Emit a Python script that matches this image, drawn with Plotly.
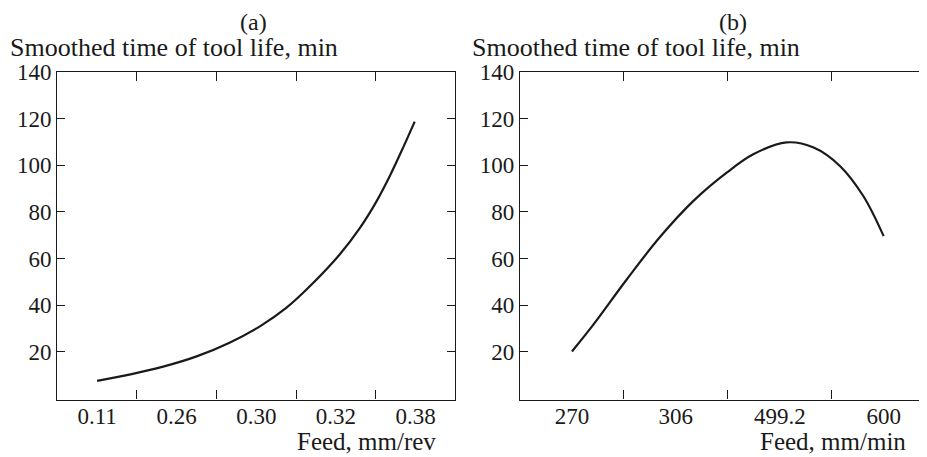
import plotly.graph_objects as go

# ---- data ----
feed_rev_labels = ["0.11", "0.26", "0.30", "0.32", "0.38"]
feed_min_labels = ["270", "306", "499.2", "600"]

# curve (a): position along the evenly spaced feed categories, tool life (min)
curve_a_pos = [0.0, 0.42, 0.83, 1.25, 1.67, 2.05, 2.38, 2.65, 3.05, 3.30, 3.51, 3.68, 3.85, 3.99]
curve_a_life = [7.5, 10.3, 13.6, 18.0, 24.0, 31.0, 38.9, 47.3, 61.8, 73.0, 84.5, 95.6, 108.0, 118.7]

# curve (b)
curve_b_pos = [0.0, 0.206, 0.527, 0.847, 1.167, 1.489, 1.745, 2.066, 2.326, 2.579, 2.804, 3.0]
curve_b_life = [20.1, 31.6, 51.0, 69.2, 84.6, 96.8, 104.7, 109.8, 107.6, 99.7, 86.8, 69.6]

y_ticks = [20, 40, 60, 80, 100, 120, 140]

# page body has an 8px margin: figure is drawn 8px in from the top-left
OFF = 8
W, H = 927 - OFF, 457 - OFF
FONT = "Liberation Serif"
INK = "#1a1a1a"

def px(x):
    return (x - OFF) / W

def py(y):
    return 1 - (y - OFF) / H

fig = go.Figure()

fig.add_trace(go.Scatter(x=curve_a_pos, y=curve_a_life, mode="lines",
                         line=dict(color=INK, width=2.2, shape="spline", smoothing=1.0),
                         xaxis="x", yaxis="y", showlegend=False, hoverinfo="skip"))
fig.add_trace(go.Scatter(x=curve_b_pos, y=curve_b_life, mode="lines",
                         line=dict(color=INK, width=2.2, shape="spline", smoothing=1.0),
                         xaxis="x2", yaxis="y2", showlegend=False, hoverinfo="skip"))
# invisible traces for label axes
fig.add_trace(go.Scatter(x=feed_rev_labels, y=[None] * len(feed_rev_labels), mode="lines",
                         xaxis="x3", yaxis="y", showlegend=False, hoverinfo="skip"))
fig.add_trace(go.Scatter(x=feed_min_labels, y=[None] * len(feed_min_labels), mode="lines",
                         xaxis="x4", yaxis="y2", showlegend=False, hoverinfo="skip"))

ydom = [py(399.5), py(72)]
dom_a = [px(57.3), px(455.3)]
dom_b = [px(520), 1.0]
n_a = len(feed_rev_labels)
n_b = len(feed_min_labels)
rng_b = [-0.5, -0.5 + (927 - 520) / 103.9]

tick_font = dict(family=FONT, size=23, color=INK)

common_x = dict(showgrid=False, zeroline=False, showline=True, linecolor=INK, linewidth=1.3,
                ticks="inside", ticklen=9, tickwidth=1.3, tickcolor=INK,
                mirror="ticks", showticklabels=False, automargin=False)
common_y = dict(showgrid=False, zeroline=False, showline=True, linecolor=INK, linewidth=1.3,
                ticks="inside", ticklen=8, tickwidth=1.3, tickcolor=INK,
                range=[-0.5, 140], tickvals=y_ticks, tickfont=tick_font, domain=ydom,
                automargin=False)
label_x = dict(showgrid=False, zeroline=False, showline=False, ticks="", type="category",
               tickfont=tick_font, side="bottom", automargin=False)

fig.update_layout(
    width=W, height=H,
    margin=dict(l=0, r=0, t=0, b=0, pad=0),
    paper_bgcolor="white", plot_bgcolor="white",
    font=dict(family=FONT, color=INK, size=23),
    xaxis=dict(**common_x, domain=dom_a, anchor="y", range=[-0.5, n_a - 0.5],
               tickvals=[i + 0.5 for i in range(n_a - 1)]),
    yaxis=dict(**common_y, anchor="x", mirror="ticks"),
    xaxis2=dict(**common_x, domain=dom_b, anchor="y2", range=rng_b,
                tickvals=[i + 0.5 for i in range(n_b - 1)]),
    yaxis2=dict(**common_y, anchor="x2", mirror=False),
    xaxis3=dict(**label_x, overlaying="x", anchor="y", range=[-0.5, n_a - 0.5],
                categoryarray=feed_rev_labels, categoryorder="array"),
    xaxis4=dict(**label_x, overlaying="x2", anchor="y2", range=rng_b,
                categoryarray=feed_min_labels, categoryorder="array"),
)

panel_font = dict(family=FONT, size=24, color=INK)
title_font = dict(family=FONT, size=26, color=INK)
xtitle_font = dict(family=FONT, size=25, color=INK)
annots = [
    dict(text="(a)", x=px(253), y=1.0, xanchor="center", yanchor="top", font=panel_font),
    dict(text="(b)", x=px(733), y=1.0, xanchor="center", yanchor="top", font=panel_font),
    dict(text="Smoothed time of tool life, min", x=px(9), y=py(48), xanchor="left",
         yanchor="middle", font=title_font),
    dict(text="Smoothed time of tool life, min", x=px(471), y=py(48), xanchor="left",
         yanchor="middle", font=title_font),
    dict(text="Feed, mm/rev", x=px(437), y=py(441), xanchor="right", yanchor="middle",
         font=xtitle_font),
    dict(text="Feed, mm/min", x=px(907), y=py(441), xanchor="right", yanchor="middle",
         font=xtitle_font),
]
for a in annots:
    fig.add_annotation(xref="paper", yref="paper", showarrow=False, borderpad=0, **a)

fig.write_html("out.html")
